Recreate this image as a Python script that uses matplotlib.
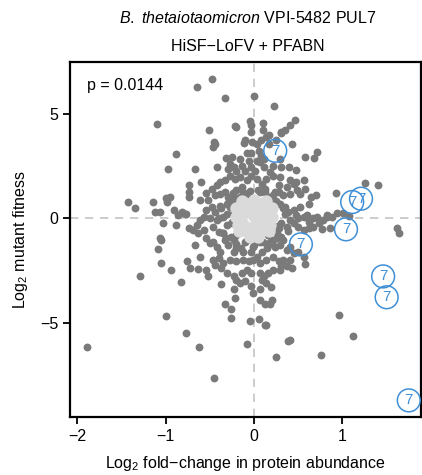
import matplotlib
matplotlib.use("Agg")
import matplotlib.pyplot as plt

plt.rcParams["font.family"] = ["Liberation Sans", "DejaVu Sans"]
plt.rcParams["mathtext.fontset"] = "custom"
plt.rcParams["mathtext.rm"] = "Liberation Sans"
plt.rcParams["mathtext.it"] = "Liberation Sans:italic"

# log2 fold-change in protein abundance / log2 mutant fitness, other genes
gene_x = [
    -0.47, -0.65, 0.00, -0.33, 0.23,
    -1.10, -0.04, -0.03, 0.10, 0.46, 0.41, -0.51, -0.22, -0.20, 0.35, 0.31, 0.30, -0.03, 0.10, 0.17,
    0.14, -0.10, -0.02, 0.08, -0.11, 0.43, -0.45, -0.46, -0.44, 0.03, 0.17, 0.25,
    -0.88, -0.32, -0.25, 0.58, 0.68, 0.71, -0.08, -0.03, 0.06, 0.08, 0.11, -0.16, -0.06, 0.03, 0.07,
    0.11, -0.42, -0.27, -0.23, -0.20, -0.29, -0.03, 0.29, 0.31, 0.40, 0.48, 0.22, -0.97, -0.67, -0.14,
    -0.10, 0.01, 0.18,
    -0.60, -0.73, -0.73, -0.54, -0.48, -0.42, -0.38, -0.33, -0.27, -0.22, -0.16, -0.08, -0.03, 0.03,
    0.09, 0.14, 0.22, 0.28, 0.29, 0.37, 0.41, 0.45, 0.48, 0.56, 0.58, 0.52, 0.49, 0.41, 0.33, 0.28,
    0.22, 0.16, -0.38, -0.33, -0.29, -0.23, -0.20, -0.14, -0.44, -0.52, -0.61, -0.73, -1.00, -0.95,
    -1.14, -1.12, -1.06, -0.98, -0.91, -0.86, -0.81, -0.77, 0.93, 0.65, 0.70, 0.62, 0.94, 0.82, 0.88,
    1.01, 1.07, 1.25, 1.40, -1.42, -1.35,
    -1.03, -0.88, -0.78, -0.74, -0.69, -0.65, -0.63, -0.57, -0.61, -0.57, -0.54, -0.48, -0.44, -0.42,
    -0.46, -0.40, -0.35, -0.31, -0.35, -0.37, -0.31, -0.27, -0.23, 0.29, 0.35, 0.39, 0.45, 0.48, 0.52,
    0.56, 0.60, 0.62, 0.67, 0.71, 0.73, 0.67, 0.62, 0.56, 0.50, 0.45, 0.41, 0.37, 0.31, 0.28, 0.78,
    0.82, 0.77, 0.86, 1.62, 1.64, 0.26, 0.22, 0.29,
    -0.16, -0.08, 0.07, 0.12, 0.22, -0.23, -0.25, -0.20, -0.08, 0.07, 0.16,
    -1.06, -1.05, -1.09, -0.67, -0.54, -0.50, -0.46, -0.42, -0.38, -0.33, -0.29, -0.23, -0.20, -0.23,
    -0.13, -0.10, -0.01, -0.03, 0.03, 0.09, 0.10, 0.16, 0.18, 0.24, 0.29, 0.33, 0.37, 0.41, 0.45,
    0.50, 0.56, 0.58, 0.41, 0.37, 0.33, 0.28, 0.22, 0.14, 0.07, -0.01, -0.06, -0.12, -0.20, -0.27,
    -0.35, -0.40, -0.46, -0.61, -0.76, -1.05, -0.63, -0.54, -0.44, -0.37, -0.31, -0.23, -0.20, -0.14,
    -0.08, -0.03, 0.07, 0.11, 0.16, 0.22, 0.29, 0.31, 0.43,
    -1.29, -0.94, -0.82, -0.72, -0.52, -0.37, -0.23, -0.16, -0.10, -0.03, 0.07, 0.09, 0.14, 0.19,
    -0.01, 0.07, 0.12, 0.18, 0.20, -0.22, -0.33, -0.26, -0.26, -0.05, 0.06, 0.12, 0.14, 0.96, 1.12,
    -1.89, -1.00, -0.77, -0.62, -0.45, -0.08, 0.25, 0.39, 0.41, 0.76,
    # extra genes filling the dense ring
    -0.30, -0.25, -0.18, -0.35, -0.40, -0.28, -0.32, -0.24, 0.25, 0.30, 0.35, 0.27, 0.33, 0.24,
    -0.05, 0.05, -0.12, 0.12, 0.00, -0.20, 0.20, -0.15, 0.15, -0.26, 0.26, -0.38, 0.38, -0.50, 0.50,
]
gene_y = [
    6.70, 6.33, 5.90, 5.76, 5.38,
    4.54, 4.68, 4.49, 4.57, 4.71, 4.51, 4.27, 4.43, 4.41, 4.25, 4.16, 4.08, 4.17, 4.24, 4.00,
    3.89, 3.76, 3.65, 3.79, 3.63, 3.56, 3.68, 3.44, 3.57, 3.56, 3.59, 3.79,
    3.08, 2.90, 2.94, 2.94, 2.92, 3.21, 3.16, 3.13, 3.25, 3.02, 2.86, 2.84, 2.78, 2.78, 2.70,
    2.46, 2.48, 2.62, 2.46, 2.30, 2.38, 2.46, 2.86, 2.46, 2.46, 2.33, 2.54, 2.38, 2.37, 2.52,
    2.30, 2.30, 2.22,
    1.76, 1.60, 1.27, 1.22, 1.43, 1.59, 1.75, 1.83, 2.06, 1.90, 1.98, 1.83, 2.06, 1.90,
    1.67, 1.90, 2.06, 1.59, 1.98, 1.51, 1.83, 1.67, 1.75, 1.83, 1.43, 1.19, 1.35, 1.19, 1.11, 1.27,
    1.11, 1.03, 1.19, 1.27, 1.03, 1.03, 1.35, 1.51, 1.11, 0.90, 0.87, 1.03, 0.98, 1.03,
    0.79, 0.32, 0.32, 0.79, 0.40, 0.16, 0.32, 0.21, 1.21, 1.03, 1.11, 0.71, 0.27, 0.16, 0.08,
    0.24, 0.11, 1.70, 1.62, 0.78, 0.51,
    -0.24, -0.33, 0.21, -0.48, -0.56, -0.32, -0.71, -0.56, -0.08, 0.08, 0.40, 0.56, 0.32, -0.08,
    -0.40, -0.63, -0.71, -0.32, 0.08, 0.48, 0.71, 0.56, 0.79, 0.71, 0.56, 0.32, 0.40, 0.16, 0.56,
    0.08, 0.16, -0.16, 0.00, 0.08, -0.24, -0.40, -0.48, -0.56, -0.40, -0.24, -0.08, -0.40, -0.24, -0.48, -0.08,
    0.08, -0.52, -0.48, -0.48, -0.68, -0.71, -1.03, -0.87,
    1.03, 1.19, 1.27, 1.43, 0.87, 0.32, -0.24, -0.79, -1.03, -1.11, -0.79,
    -0.95, -1.03, -1.46, -1.29, -0.95, -1.19, -1.11, -1.35, -1.59, -1.03, -1.27, -1.03, -1.43, -1.59,
    -1.63, -1.11, -1.35, -1.59, -1.83, -1.59, -1.11, -1.27, -1.11, -1.35, -1.27, -1.03, -1.51, -1.35, -1.67,
    -1.59, -1.83, -2.17, -1.98, -2.30, -1.98, -2.06, -1.83, -1.98, -2.14, -1.98, -2.06, -1.98, -2.06, -1.98,
    -2.14, -1.90, -1.98, -1.83, -2.06, -2.16, -2.43, -2.46, -2.22, -2.38, -2.62, -2.78, -2.94, -2.62,
    -2.46, -2.62, -2.62, -2.78, -2.62, -2.46, -2.46, -2.30, -2.38,
    -2.78, -2.49, -3.06, -2.38, -2.78, -3.14, -3.38, -3.10, -3.02, -3.25, -3.38, -2.94, -3.10, -3.27,
    -3.57, -3.89, -4.10, -4.10, -3.89, -3.81, -4.10, -4.33, -4.78, -4.94, -4.84, -5.11, -5.11, -4.62, -5.65,
    -6.19, -4.67, -5.49, -6.17, -7.65, -6.00, -6.67, -5.87, -5.83, -6.56,
    0.20, -0.15, 0.60, -0.70, 0.00, 0.90, -0.95, 1.20, 0.85, -0.90, 0.20, -0.35, 0.50, 1.25,
    1.30, 1.35, 1.25, 1.28, -1.25, -1.22, -1.20, -1.40, -1.40, -0.90, -0.95, 0.60, -0.60, 0.00, 0.00,
]

# genes near the origin (light grey blob)
core_x = [0.00, -0.15, -0.10, 0.00, 0.10, 0.15, 0.10, 0.00, -0.10, -0.20, 0.20, -0.05, 0.05,
          -0.18, 0.18, 0.00, 0.00, -0.08, 0.08, -0.12, 0.12, -0.20, 0.20, -0.06, 0.06,
          -0.17, 0.17, -0.05, 0.05, -0.14, 0.14]
core_y = [0.10, 0.10, 0.75, 0.90, 0.75, 0.10, -0.55, -0.75, -0.55, 0.50, 0.50, 0.40, -0.20,
          -0.30, -0.30, 0.45, -0.35, 0.30, 0.30, -0.25, -0.25, 0.05, 0.05, 0.60, -0.50,
          -0.60, -0.60, -0.90, -0.90, 0.85, 0.85]

# PUL7 genes
pul_x = [0.24, 1.11, 1.21, 1.04, 0.53, 1.46, 1.50, 1.75]
pul_y = [3.25, 0.79, 0.95, -0.52, -1.24, -2.78, -3.78, -8.73]
pul_label = "7"

fig = plt.figure(figsize=(4.22, 4.75), dpi=100)
ax = fig.add_axes([0.166, 0.122, 0.832, 0.747])

ax.axvline(0, color="#c4c4c4", lw=1.2, ls=(0, (5, 4)), zorder=0)
ax.axhline(0, color="#c4c4c4", lw=1.2, ls=(0, (5, 4)), zorder=0)

ax.scatter(gene_x, gene_y, s=32, color="#7a7a7a", linewidths=0, zorder=2)
ax.scatter(core_x, core_y, s=80, color="#dadada", linewidths=0, zorder=3)

blue = "#3f8fd6"
ax.scatter(pul_x, pul_y, s=270, facecolors="none", edgecolors=blue, linewidths=1.1, zorder=4)
for x, y in zip(pul_x, pul_y):
    ax.text(x, y, pul_label, color=blue, fontsize=11, ha="center", va="center", zorder=5)

ax.text(0.048, 0.935, "p = 0.0144", transform=ax.transAxes, fontsize=11.5, va="center")

ax.set_xlim(-2.08, 1.89)
ax.set_ylim(-9.53, 7.5)
ax.set_xticks([-2, -1, 0, 1])
ax.set_yticks([-5, 0, 5])
ax.tick_params(direction="out", length=5, width=1.3, labelsize=11.5, color="black")
for sp in ax.spines.values():
    sp.set_linewidth(1.6)

ax.set_xlabel("Log$_2$ fold\u2212change in protein abundance", fontsize=11.5, labelpad=7)
ax.set_ylabel("Log$_2$ mutant fitness", fontsize=11.5, labelpad=7)

fig.text(0.588, 0.951, r"$\mathit{B.\ thetaiotaomicron}$ VPI-5482 PUL7", ha="center",
         va="baseline", fontsize=11.5)
fig.text(0.588, 0.893, "HiSF\u2212LoFV + PFABN", ha="center", va="baseline", fontsize=11.5)

fig.savefig("out.png", dpi=100)
